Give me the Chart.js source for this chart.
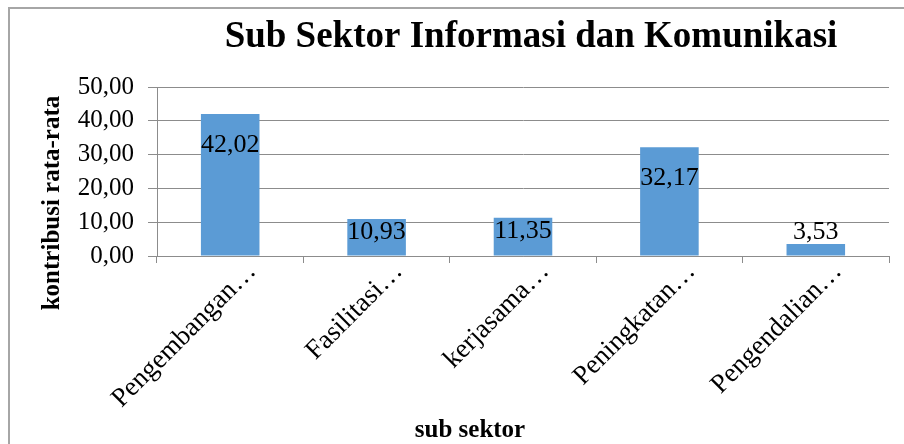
<!DOCTYPE html>
<html>
<head>
<meta charset="utf-8">
<script src="https://cdn.jsdelivr.net/npm/chart.js@4/dist/chart.umd.min.js"></script>
<style>
  body { margin: 0; background: #fff; }
  #wrap { position: relative; width: 904px; height: 444px; overflow: hidden; }
  #frame { position: absolute; left: 8px; top: 7px; width: 1000px; height: 1000px;
           border-top: 2px solid #a6a6a6; border-left: 2px solid #a6a6a6; }
  canvas { position: absolute; left: 0; top: 0; }
</style>
</head>
<body>
<div id="wrap">
  <div id="frame"></div>
  <canvas id="canvas" width="904" height="444"></canvas>
</div>
<script>
const categories = ['Pengembangan\u2026', 'Fasilitasi\u2026', 'kerjasama\u2026', 'Peningkatan\u2026', 'Pengendalian\u2026'];
const values = [42.02, 10.93, 11.35, 32.17, 3.53];
const yTicks = [0, 10, 20, 30, 40, 50];

const serif = '"Liberation Serif", "Times New Roman", serif';
const gridColor = '#8c8c8c';

function fmt(v) {
    return v.toFixed(2).replace('.', ',');
}

// chart title and axis titles, placed like the original
const titlePlugin = {
    id: 'titleText',
    afterDraw(chart) {
        const ctx = chart.ctx;
        ctx.save();
        ctx.fillStyle = '#000';
        ctx.textAlign = 'center';
        ctx.textBaseline = 'alphabetic';
        ctx.font = 'bold 37px ' + serif;
        ctx.fillText('Sub Sektor Informasi dan Komunikasi', 531, 47);

        ctx.font = 'bold 25px ' + serif;
        ctx.fillText('sub sektor', 470, 437);

        ctx.translate(53, 203);
        ctx.rotate(-Math.PI / 2);
        ctx.textBaseline = 'middle';
        ctx.fillText('kontribusi rata-rata', 0, 0);
        ctx.restore();
    }
};

// value labels on the bars
const labelPlugin = {
    id: 'barLabels',
    afterDatasetsDraw(chart) {
        const ctx = chart.ctx;
        const meta = chart.getDatasetMeta(0);
        ctx.save();
        ctx.font = '26px ' + serif;
        ctx.fillStyle = '#000';
        ctx.textAlign = 'center';
        ctx.textBaseline = 'alphabetic';
        meta.data.forEach((bar, i) => {
            const h = bar.base - bar.y;
            let baseline;
            if (h > 60) baseline = bar.y + 38;
            else if (h > 25) baseline = bar.y + 20;
            else baseline = bar.y - 5;
            ctx.fillText(fmt(values[i]), bar.x, baseline);
        });
        ctx.restore();
    }
};

const ctx = document.getElementById('canvas').getContext('2d');
new Chart(ctx, {
    type: 'bar',
    data: {
        labels: categories,
        datasets: [{
            data: values,
            backgroundColor: '#5b9bd5',
            barPercentage: 0.4,
            categoryPercentage: 1
        }]
    },
    options: {
        responsive: false,
        animation: false,
        devicePixelRatio: 1,
        layout: { padding: { left: 0, right: 15, top: 87, bottom: 0 } },
        plugins: {
            legend: { display: false },
            tooltip: { enabled: false },
            title: { display: false }
        },
        scales: {
            x: {
                grid: { drawOnChartArea: false, color: gridColor, tickLength: 7, offset: true },
                border: { color: gridColor },
                ticks: {
                    color: '#000',
                    font: { family: serif, size: 27 },
                    minRotation: 45,
                    maxRotation: 45,
                    autoSkip: false,
                    padding: -7,
                    labelOffset: 22
                },
                afterFit(scale) { scale.height = 188; }
            },
            y: {
                min: 0,
                max: 50,
                afterBuildTicks(scale) { scale.ticks = yTicks.map(v => ({ value: v })); },
                grid: { color: gridColor, tickLength: 9 },
                border: { color: gridColor },
                ticks: {
                    color: '#000',
                    font: { family: serif, size: 25 },
                    padding: 14,
                    callback: v => fmt(v)
                },
                afterFit(scale) { scale.width = 157; }
            }
        }
    },
    plugins: [titlePlugin, labelPlugin]
});
</script>
</body>
</html>
